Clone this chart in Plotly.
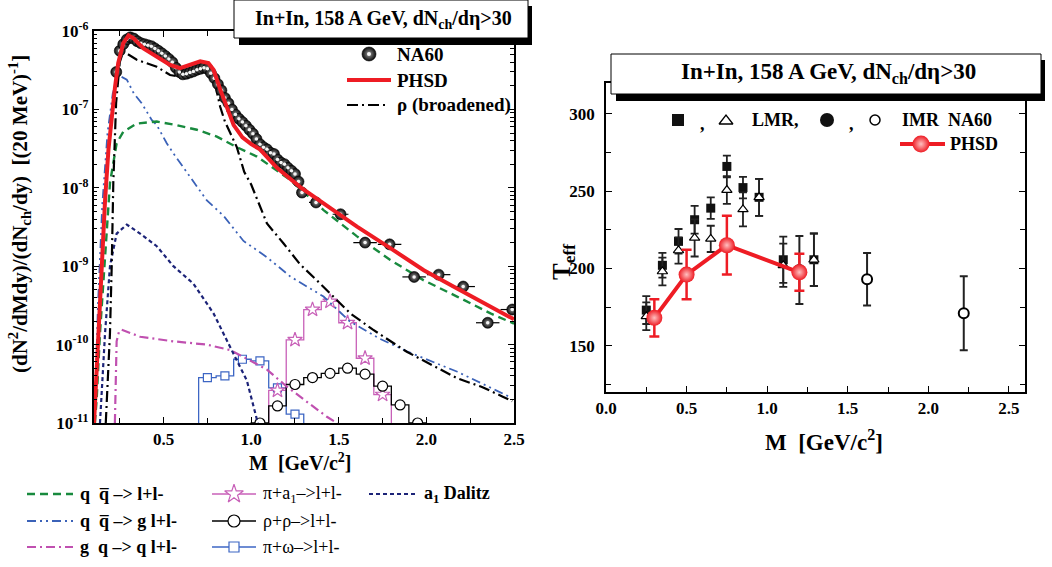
import plotly.graph_objects as go

W, H = 1052, 567
SERIF = "Liberation Serif"

# ---------------- Left panel data ----------------
na60_m = [0.23, 0.25, 0.27, 0.29, 0.31, 0.33, 0.35, 0.37, 0.39, 0.41, 0.43, 0.45, 0.47, 0.49,
          0.51, 0.53, 0.55, 0.57, 0.59, 0.61, 0.63, 0.65, 0.67, 0.69, 0.71, 0.73, 0.75, 0.77,
          0.79, 0.81, 0.83, 0.85, 0.87, 0.89, 0.91, 0.93, 0.95, 0.97, 0.99, 1.01, 1.03, 1.05,
          1.07, 1.09, 1.11, 1.13, 1.15, 1.17, 1.19, 1.21, 1.23, 1.25, 1.27]
na60_v = [3.0e-7, 5.6e-7, 6.8e-7, 7.8e-7, 8.3e-7, 8.0e-7, 7.4e-7, 7.0e-7, 6.8e-7, 6.6e-7, 6.4e-7,
          6.0e-7, 5.6e-7, 5.2e-7, 4.8e-7, 4.4e-7, 4.0e-7, 3.4e-7, 3.0e-7, 2.8e-7, 2.85e-7, 2.95e-7,
          3.05e-7, 3.2e-7, 3.3e-7, 3.4e-7, 3.3e-7, 2.9e-7, 2.5e-7, 2.1e-7, 1.75e-7, 1.4e-7, 1.2e-7,
          1.0e-7, 8.6e-8, 7.6e-8, 6.9e-8, 6.2e-8, 5.5e-8, 4.9e-8, 4.2e-8, 3.6e-8, 3.3e-8, 3.1e-8,
          2.8e-8, 2.7e-8, 2.3e-8, 2.1e-8, 2.0e-8, 1.8e-8, 1.65e-8, 1.5e-8, 1.2e-8]
na60_sp_m = [1.29, 1.37, 1.51, 1.65, 1.79, 1.93, 2.07, 2.21, 2.35, 2.49]
na60_sp_v = [8.7e-9, 6.5e-9, 4.6e-9, 2.0e-9, 1.9e-9, 7.3e-10, 7.8e-10, 5.5e-10, 1.9e-10, 2.8e-10]
na60_sp_dm = [0.03, 0.04, 0.045, 0.067, 0.067, 0.067, 0.067, 0.067, 0.067, 0.067]

phsd_m = [0.103, 0.127, 0.147, 0.166, 0.185, 0.21, 0.223, 0.241, 0.27, 0.30, 0.327, 0.385, 0.461,
          0.537, 0.594, 0.651, 0.709, 0.756, 0.785, 0.823, 0.861, 0.90, 0.95, 1.0, 1.05, 1.147,
          1.28, 1.413, 1.604, 1.794, 1.985, 2.175, 2.366, 2.5]
phsd_v = [1e-11, 1.4e-10, 1.0e-9, 6.9e-9, 3.0e-8, 1.2e-7, 1.95e-7, 3.9e-7, 7.0e-7, 8.8e-7, 8.1e-7,
          6.0e-7, 4.7e-7, 3.7e-7, 3.35e-7, 3.7e-7, 4.1e-7, 3.9e-7, 3.2e-7, 1.8e-7, 1.08e-7, 6.3e-8,
          4.4e-8, 3.6e-8, 3.1e-8, 1.8e-8, 1.02e-8, 6.3e-9, 3.2e-9, 1.7e-9, 8.9e-10, 5.2e-10,
          3.0e-10, 2.1e-10]

qq_m = [0.108, 0.118, 0.137, 0.166, 0.194, 0.232, 0.27, 0.347, 0.461, 0.575, 0.69, 0.804, 0.918,
        1.033, 1.109, 1.223, 1.413, 1.604, 1.794, 1.985, 2.175, 2.366, 2.5]
qq_v = [1e-11, 2e-11, 1.4e-10, 1.2e-9, 1.15e-8, 3.7e-8, 5.2e-8, 6.6e-8, 7.0e-8, 6.3e-8, 5.5e-8,
        4.5e-8, 3.3e-8, 2.5e-8, 1.9e-8, 1.26e-8, 5.2e-9, 2.4e-9, 1.2e-9, 6.6e-10, 4.1e-10,
        2.5e-10, 1.85e-10]

qqg_m = [0.105, 0.125, 0.15, 0.18, 0.21, 0.235, 0.26, 0.29, 0.33, 0.375, 0.433, 0.461, 0.518,
         0.556, 0.651, 0.747, 0.842, 0.956, 1.033, 1.09, 1.223, 1.413, 1.56, 1.73, 1.9, 2.177, 2.486]
qqg_v = [1e-11, 3e-10, 6e-9, 5e-8, 1.6e-7, 2.4e-7, 2.6e-7, 2.4e-7, 1.6e-7, 1.2e-7, 7.3e-8,
         6.3e-8, 3.7e-8, 2.75e-8, 1.38e-8, 6.9e-9, 4.4e-9, 2.1e-9, 1.6e-9, 1.3e-9, 7.4e-10,
         4.1e-10, 2.0e-10, 1.2e-10, 8e-11, 4.5e-11, 2.1e-11]

gq_m = [0.222, 0.232, 0.245, 0.261, 0.366, 0.556, 0.747, 0.88, 0.975, 1.09, 1.204, 1.318, 1.432,
        1.49, 1.52]
gq_v = [1e-11, 1.1e-10, 1.45e-10, 1.55e-10, 1.26e-10, 1.1e-10, 1.0e-10, 8.5e-11, 6.6e-11,
        4.8e-11, 2.9e-11, 1.86e-11, 1.2e-11, 1.0e-11, 9e-12]

a1d_m = [0.137, 0.166, 0.194, 0.232, 0.29, 0.366, 0.461, 0.556, 0.67, 0.785, 0.88, 0.975, 1.033,
         1.05]
a1d_v = [1e-11, 1.4e-10, 1e-9, 2.6e-9, 3.4e-9, 2.6e-9, 1.8e-9, 1.0e-9, 6.0e-10, 2.5e-10,
         9.3e-11, 3.5e-11, 1.1e-11, 8e-12]

rho_m = [0.17, 0.194, 0.204, 0.213, 0.229, 0.25, 0.27, 0.347, 0.461, 0.537, 0.594, 0.651, 0.727,
         0.766, 0.794, 0.823, 0.85, 0.918, 0.96, 1.0, 1.09, 1.185, 1.28, 1.375, 1.47, 1.566,
         1.695, 1.888, 2.178, 2.314, 2.43, 2.49]
rho_v = [1e-11, 1.4e-10, 1e-9, 1.15e-8, 1.2e-7, 4.0e-7, 5.5e-7, 4.3e-7, 3.5e-7, 2.75e-7, 2.6e-7,
         2.9e-7, 3.35e-7, 3.2e-7, 2.1e-7, 1.08e-7, 7e-8, 3.3e-8, 1.6e-8, 1.1e-8, 3.5e-9, 1.95e-9,
         1.05e-9, 6.6e-10, 4.1e-10, 2.5e-10, 1.55e-10, 8.1e-11, 3.7e-11, 2.9e-11, 2.2e-11, 1.9e-11]

# histograms (bin edges, bin values)
pia1_edges = [1.1, 1.2, 1.3, 1.4, 1.5, 1.6, 1.7, 1.8]
pia1_v = [2.6e-11, 1.15e-10, 2.8e-10, 3.55e-10, 1.9e-10, 6.7e-11, 2.3e-11]
rhorho_edges = [1.0, 1.1, 1.2, 1.3, 1.4, 1.5, 1.6, 1.7, 1.8, 1.9, 2.0]
rhorho_v = [1.0e-11, 1.65e-11, 3.1e-11, 3.8e-11, 4.3e-11, 5.0e-11, 4.2e-11, 2.95e-11, 1.7e-11, 1.0e-11]
piom_edges = [0.7, 0.8, 0.9, 1.0, 1.1, 1.2, 1.3]
piom_v = [3.8e-11, 4.0e-11, 6.5e-11, 6.2e-11, 2.8e-11, 1.3e-11]

# ---------------- Right panel data ----------------
lmr_m = [0.25, 0.35, 0.45, 0.55, 0.65, 0.75, 0.85, 0.95, 1.1, 1.29]
lmr_sq_t = [173, 202, 217.5, 231.5, 239, 266, 252.3, 246, 205.6, 205.6]
lmr_sq_err = [9, 8, 8, 9, 7, 7, 7, 12, 15, 17]
lmr_tr_t = [169, 198, 211.6, 219.7, 219.1, 250.7, 238.2, 246, 202, 205.6]
lmr_tr_err = [9, 9, 8.5, 12, 8.5, 9, 11, 12, 14, 17]
imr_full_m = [1.2]
imr_full_t = [199]
imr_full_err = [22]
imr_open_m = [1.62, 2.22]
imr_open_t = [193, 171]
imr_open_err = [17, 24]
phsd_r_m = [0.3, 0.5, 0.75, 1.2]
phsd_r_t = [168, 196, 215, 197.5]
phsd_r_err = [12, 16, 19, 12]

# ---------------- helpers ----------------
def px(x):
    return x / W


def py(y):
    return 1 - y / H


def steps(edges, vals, floor=1e-12):
    xs = [edges[0]]
    ys = [floor]
    for i, v in enumerate(vals):
        xs.append(edges[i])
        ys.append(v)
    xs += [edges[-1], edges[-1]]
    ys += [vals[-1], floor]
    return xs, ys


def centers(edges):
    return [(edges[i] + edges[i + 1]) / 2 for i in range(len(edges) - 1)]


GREEN = "#188a3e"
BLUE = "#3b62b8"
MAG = "#c050b0"
NAVY = "#1c2378"
PINK = "#c860b8"
HBLUE = "#3d66c4"
RED = "#ee1c24"

D_GREEN = "8px,5px"
D_BLUE = "9px,4px,2px,4px,2px,4px"
D_MAG = "9px,4px,2px,4px"
D_NAVY = "4px,3px"
D_RHO = "11px,4px,2px,4px"

fig = go.Figure()
L = dict(xaxis="x", yaxis="y", showlegend=False, hoverinfo="skip")
R = dict(xaxis="x2", yaxis="y2", showlegend=False, hoverinfo="skip")
O = dict(xaxis="x3", yaxis="y3", showlegend=False, hoverinfo="skip")

# histograms
for edges, vals, col, sym, sz in [(piom_edges, piom_v, HBLUE, "square", 8),
                                   (pia1_edges, pia1_v, PINK, "star", 11),
                                   (rhorho_edges, rhorho_v, "black", "circle", 10)]:
    xs, ys = steps(edges, vals)
    fig.add_trace(go.Scatter(x=xs, y=ys, mode="lines", line=dict(color=col, width=1.3, shape="hv"), **L))
    fig.add_trace(go.Scatter(x=centers(edges), y=vals, mode="markers",
                             marker=dict(symbol=sym, size=sz, color="white", line=dict(color=col, width=1.2)), **L))

fig.add_trace(go.Scatter(x=gq_m, y=gq_v, mode="lines", line=dict(color=MAG, width=2.2, dash=D_MAG), **L))
fig.add_trace(go.Scatter(x=a1d_m, y=a1d_v, mode="lines", line=dict(color=NAVY, width=2.2, dash=D_NAVY), **L))
fig.add_trace(go.Scatter(x=qqg_m, y=qqg_v, mode="lines", line=dict(color=BLUE, width=1.8, dash=D_BLUE), **L))
fig.add_trace(go.Scatter(x=qq_m, y=qq_v, mode="lines", line=dict(color=GREEN, width=2.4, dash=D_GREEN), **L))
fig.add_trace(go.Scatter(x=rho_m, y=rho_v, mode="lines", line=dict(color="black", width=2.2, dash=D_RHO), **L))

sphere = dict(symbol="circle", size=11, color="#0a0a0a",
              gradient=dict(type="radial", color="#9a9a9a"), line=dict(color="#000", width=0.6))
glint = dict(symbol="circle", size=3.5, color="#f4f4f4", line=dict(width=0))
fig.add_trace(go.Scatter(x=na60_m, y=na60_v, mode="markers", marker=sphere, **L))
fig.add_trace(go.Scatter(x=na60_m, y=na60_v, mode="markers", marker=glint, **L))
fig.add_trace(go.Scatter(x=na60_sp_m, y=na60_sp_v, mode="markers", marker=sphere,
                         error_x=dict(type="data", array=na60_sp_dm, color="black", thickness=1.2, width=0), **L))
fig.add_trace(go.Scatter(x=na60_sp_m, y=na60_sp_v, mode="markers", marker=glint, **L))
fig.add_trace(go.Scatter(x=phsd_m, y=phsd_v, mode="lines", line=dict(color=RED, width=4), **L))

# ---------------- right panel traces ----------------
fig.add_trace(go.Scatter(x=imr_open_m, y=imr_open_t, mode="markers",
                         marker=dict(symbol="circle", size=10, color="white", line=dict(color="black", width=2)),
                         error_y=dict(type="data", array=imr_open_err, color="#222", thickness=2, width=4), **R))
fig.add_trace(go.Scatter(x=imr_full_m, y=imr_full_t, mode="markers",
                         marker=dict(symbol="circle", size=12, color="#111"),
                         error_y=dict(type="data", array=imr_full_err, color="#222", thickness=2, width=4), **R))
fig.add_trace(go.Scatter(x=lmr_m, y=lmr_sq_t, mode="markers",
                         marker=dict(symbol="square", size=9, color="#111"),
                         error_y=dict(type="data", array=lmr_sq_err, color="#222", thickness=1.8, width=4), **R))
fig.add_trace(go.Scatter(x=lmr_m, y=lmr_tr_t, mode="markers",
                         marker=dict(symbol="triangle-up", size=9, color="white", line=dict(color="black", width=1.2)),
                         error_y=dict(type="data", array=lmr_tr_err, color="#222", thickness=1.8, width=4), **R))
fig.add_trace(go.Scatter(x=phsd_r_m, y=phsd_r_t, mode="lines+markers",
                         line=dict(color=RED, width=4),
                         marker=dict(symbol="circle", size=16, color=RED,
                                     gradient=dict(type="radial", color="#ffc0c0")),
                         error_y=dict(type="data", array=phsd_r_err, color=RED, thickness=2.5, width=5), **R))

# ---------------- legend glyphs (overlay pixel axis) ----------------
def oline(x0, x1, y, col, w, dash=None):
    fig.add_trace(go.Scatter(x=[x0, x1], y=[y, y], mode="lines",
                             line=dict(color=col, width=w, dash=dash), **O))


def omark(x, y, m):
    fig.add_trace(go.Scatter(x=[x], y=[y], mode="markers", marker=m, **O))


# top-left panel legend
omark(369, 54, dict(sphere, size=14))
omark(369, 54, dict(glint, size=4))
oline(347, 391, 80, RED, 4)
oline(347, 387, 105, "black", 2.2, D_RHO)
# bottom legend
oline(27, 73, 494, GREEN, 2.4, D_GREEN)
oline(27, 73, 521, BLUE, 1.8, D_BLUE)
oline(27, 73, 547, MAG, 2.2, D_MAG)
for yy, col, sym, sz in [(494, PINK, "star", 14), (521, "black", "circle", 12), (547, HBLUE, "square", 10)]:
    oline(212, 256, yy, col, 1.3)
    omark(234, yy, dict(symbol=sym, size=sz, color="white", line=dict(color=col, width=1.2)))
oline(369, 417, 494, NAVY, 2.2, D_NAVY)
# right panel legend
omark(678, 120, dict(symbol="square", size=12, color="#111"))
omark(726, 121, dict(symbol="triangle-up", size=12, color="white", line=dict(color="black", width=1.3)))
omark(827, 120, dict(symbol="circle", size=14, color="#111"))
omark(875, 120, dict(symbol="circle", size=10, color="white", line=dict(color="black", width=1.5)))
oline(900, 945, 144, RED, 4)
omark(921, 144, dict(symbol="circle", size=17, color=RED, gradient=dict(type="radial", color="#ffc0c0")))

# ---------------- shapes (title boxes) ----------------
shapes = []
for (x0, x1, y0, y1) in [(234, 528, 0, 38), (611, 1041, 54, 94)]:
    shapes.append(dict(type="rect", xref="x3", yref="y3", x0=x0 + 5, x1=x1 + 4, y0=y0 + 6, y1=y1 + 7,
                       fillcolor="black", line=dict(width=0), layer="above"))
    shapes.append(dict(type="rect", xref="x3", yref="y3", x0=x0, x1=x1, y0=y0, y1=y1,
                       fillcolor="white", line=dict(color="black", width=1), layer="above"))

# ---------------- annotations ----------------
ann = []


def text(x, y, s, size, anchor="left", bold=True, angle=0):
    ann.append(dict(x=x, y=y, xref="x3", yref="y3", text=("<b>%s</b>" % s) if bold else s,
                    showarrow=False, xanchor=anchor, yanchor="middle", textangle=angle,
                    borderpad=0, font=dict(family=SERIF, size=size, color="black")))


text(383, 19, "In+In, 158 A GeV, dN<sub>ch</sub>/dη>30", 20, "center")
text(828, 73, "In+In, 158 A GeV, dN<sub>ch</sub>/dη>30", 23, "center")
text(396, 54, "NA60", 19)
text(396, 80, "PHSD", 19)
text(396, 105, "ρ (broadened)", 19)
text(300, 462, "M&nbsp;&nbsp;[GeV/c<sup>2</sup>]", 20, "center")
text(19, 214, "(dN<sup>2</sup>/dMdy)/(dN<sub>ch</sub>/dy)&nbsp;&nbsp;[(20 MeV)<sup>-1</sup>]", 21, "center", angle=-90)
text(824, 440, "M&nbsp;&nbsp;[GeV/c<sup>2</sup>]", 23, "center")
text(563, 262, "T<sub>eff</sub>", 25, "center", angle=-90)
text(79, 494, "q&nbsp;&nbsp;q\u0305 –> l+l-", 18)
text(79, 521, "q&nbsp;&nbsp;q\u0305 –> g l+l-", 18)
text(79, 547, "g&nbsp;&nbsp;q –> q l+l-", 18)
text(262, 494, "π+a<sub>1</sub>–>l+l-", 18, bold=False)
text(262, 521, "ρ+ρ–>l+l-", 18, bold=False)
text(262, 547, "π+ω–>l+l-", 18, bold=False)
text(423, 494, "a<sub>1</sub> Dalitz", 18)
text(699, 124, ",", 18)
text(751, 120, "LMR,", 18)
text(848, 124, ",", 18)
text(901, 120, "IMR&nbsp;&nbsp;NA60", 18)
text(949, 144, "PHSD", 18)

# ---------------- axes ----------------
tickfont = dict(family=SERIF, size=17, color="black")
common = dict(showline=True, linecolor="black", linewidth=1.5, mirror="allticks", ticks="inside",
              tickwidth=1.3, ticklen=6, tickcolor="black", showgrid=False, zeroline=False,
              tickfont=tickfont, tickmode="array", fixedrange=True, automargin=False)

lx_ticks = [0.5, 1.0, 1.5, 2.0, 2.5]
ly_ticks = [1e-11, 1e-10, 1e-9, 1e-8, 1e-7, 1e-6]
rx_ticks = [0.0, 0.5, 1.0, 1.5, 2.0, 2.5]
ry_ticks = [150, 200, 250, 300]

fig.update_layout(
    width=W, height=H, margin=dict(l=0, r=0, t=0, b=0, pad=0, autoexpand=False),
    paper_bgcolor="white", plot_bgcolor="rgba(0,0,0,0)", showlegend=False,
    xaxis=dict(common, domain=[px(93.5), px(514)], range=[0.1, 2.5], anchor="y",
               tickvals=lx_ticks, ticktext=["<b>%.1f</b>" % v for v in lx_ticks],
               minor=dict(tickvals=[0.25, 0.75, 1.25, 1.75, 2.25], ticks="inside", ticklen=5,
                          tickwidth=1.2, tickcolor="black", showgrid=False)),
    yaxis=dict(common, type="log", domain=[py(423), py(31)], range=[-11, -6], anchor="x",
               tickvals=ly_ticks, ticktext=["<b>10<sup>%d</sup></b>" % e for e in range(-11, -5)],
               minor=dict(tickvals=[k * 10.0 ** e for e in range(-11, -6) for k in range(2, 10)],
                          ticks="inside", ticklen=4, tickwidth=1, tickcolor="black", showgrid=False)),
    xaxis2=dict(common, domain=[px(606), px(1025)], range=[0, 2.6], anchor="y2",
                tickvals=rx_ticks, ticktext=["<b>%.1f</b>" % v for v in rx_ticks],
                minor=dict(tickvals=[0.25, 0.75, 1.25, 1.75, 2.25], ticks="inside", ticklen=5,
                           tickwidth=1.2, tickcolor="black", showgrid=False)),
    yaxis2=dict(common, domain=[py(392), py(83)], range=[120, 320], anchor="x2",
                tickvals=ry_ticks, ticktext=["<b>%d</b>" % v for v in ry_ticks], ticklabelstandoff=6,
                minor=dict(tickvals=[125, 175, 225, 275], ticks="inside", ticklen=5, tickwidth=1.2,
                           tickcolor="black", showgrid=False)),
    xaxis3=dict(domain=[0, 1], range=[0, W], visible=False, fixedrange=True, anchor="y3", automargin=False),
    yaxis3=dict(domain=[0, 1], range=[H, 0], visible=False, fixedrange=True, anchor="x3", automargin=False),
    shapes=shapes, annotations=ann,
)

fig.write_html("out.html")
